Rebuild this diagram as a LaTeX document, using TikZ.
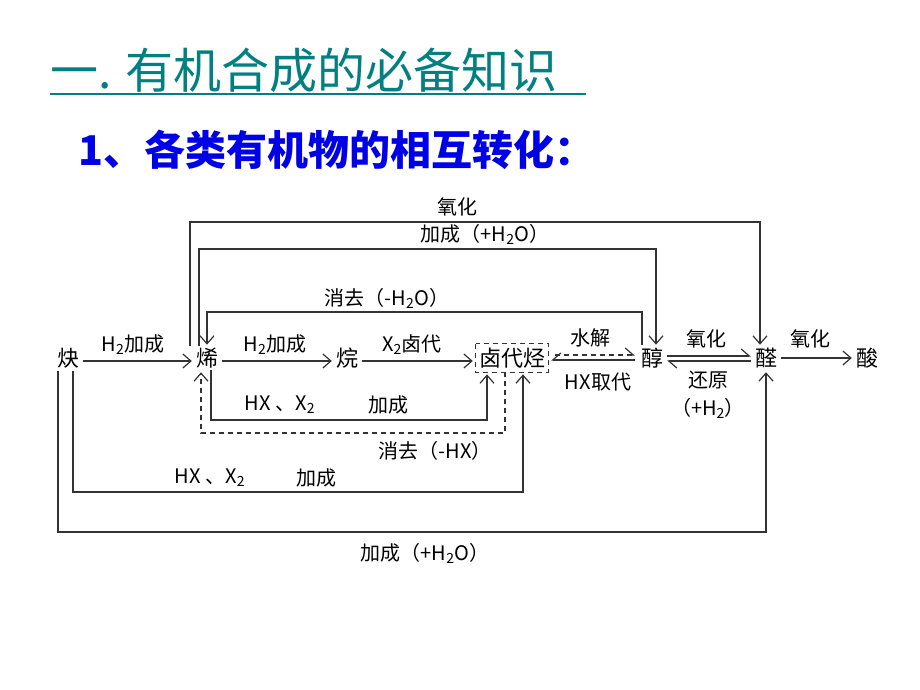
\documentclass[tikz,border=0pt]{standalone}
\usepackage{fontspec}
\newfontfamily\cjk{Noto Sans CJK SC}
\usetikzlibrary{arrows.meta,calc}
\definecolor{teal1}{RGB}{0,128,128}
\definecolor{blue1}{RGB}{0,0,230}
\begin{document}
\begin{tikzpicture}[x=1pt,y=-1pt,
  chem/.style={inner sep=0pt,font=\cjk\fontsize{22}{22}\selectfont},
  lab/.style={inner sep=0pt,font=\cjk\fontsize{20}{20}\selectfont},
  con/.style={draw=black!80,line width=1.2pt},
  arr/.style={con,-{Straight Barb[length=8pt,width=14pt]}},
  hup/.style={con,-{Straight Barb[left,length=8pt,width=14pt]}},
  dsh/.style={con,dash pattern=on 5pt off 4pt}]
\useasboundingbox (0,0) rectangle (920,690);
\fill[white] (0,0) rectangle (920,690);
\node[inner sep=0pt,anchor=west,text=teal1,font=\cjk\fontsize{48}{48}\selectfont] (t1) at (50,70) {一. 有机合成的必备知识};
\draw[teal1,line width=2pt] (50,94) -- (586,94);
\node[inner sep=0pt,anchor=west,text=blue1,font=\cjk\bfseries\fontsize{41}{41}\selectfont] (t2) at (78,150) {1、各类有机物的相互转化：};
% compounds
\node[chem] (yne) at (68,358) {炔};
\node[chem] (ene) at (207,358) {烯};
\node[chem] (ane) at (347,358) {烷};
\node[chem] (hal) at (512,358) {卤代烃};
\node[chem] (ol) at (652,358) {醇};
\node[chem] (al) at (766,358) {醛};
\node[chem] (acid) at (867,358) {酸};
\draw[dsh] ($(hal.north west)+(-3,-4)$) rectangle ($(hal.south east)+(3,4)$);
% main chain
\draw[arr] ($(yne.east)+(4,3)$) -- ($(ene.west)+(-4,3)$);
\node[lab] (l1) at (133,345) {H\textsubscript{2}加成};
\draw[arr] ($(ene.east)+(4,3)$) -- ($(ane.west)+(-4,3)$);
\node[lab] (l2) at (275,345) {H\textsubscript{2}加成};
\draw[arr] ($(ane.east)+(4,3)$) -- ($(hal.west)+(-6,3)$);
\node[lab] (l3) at (412,345) {X\textsubscript{2}卤代};
% hal <-> ol
\draw[con,{Straight Barb[right,length=8pt,width=14pt]}-] ($(hal.east)+(6,2)$) -- ($(ol.west)+(-6,2)$);
\draw[dsh,-{Straight Barb[left,length=8pt,width=14pt]}] ($(hal.east)+(10,-3)$) -- ($(ol.west)+(-6,-3)$);
\node[lab] (l4) at (590,338) {水解};
\node[lab] (l5) at (598,382) {HX取代};
% ol <-> al
\draw[hup] ($(ol.east)+(4,-2)$) -- ($(al.west)+(-4,-2)$);
\draw[hup] ($(al.west)+(-4,3)$) -- ($(ol.east)+(4,3)$);
\node[lab] (l6) at (706,339) {氧化};
\node[lab] (l7) at (708,380) {还原};
\node[lab] (l8) at (708,408) {（+H\textsubscript{2}）};
\draw[arr] ($(al.east)+(4,0)$) -- ($(acid.west)+(-4,0)$);
\node[lab] (l9) at (810,339) {氧化};
% top loops
\draw[arr] ($(ene.north)+(-17,-2)$) |- (760,222) -- ($(al.north)+(-6,-3)$);
\node[lab] (l10) at (457,207) {氧化};
\draw[arr] ($(ene.north)+(-8,-2)$) |- (656,249) -- ($(ol.north)+(4,-3)$);
\node[lab] (l11) at (485,234) {加成（+H\textsubscript{2}O）};
\draw[arr] ($(ol.north)+(-10,-3)$) |- (207,312) -- ($(ene.north)+(0,-3)$);
\node[lab] (l12) at (387,298) {消去（-H\textsubscript{2}O）};
% bottom loops
\draw[arr] ($(ene.south)+(4,2)$) |- (487,420) -- ($(hal.south)+(-25,6)$);
\node[lab] (l13) at (280,405) {HX 、X\textsubscript{2}};
\node[lab] (l14) at (388,405) {加成};
\draw[dsh,-{Straight Barb[length=8pt,width=14pt]}] ($(hal.south)+(-7,4)$) |- (201,433) -- ($(ene.south)+(-6,4)$);
\node[lab] (l15) at (435,451) {消去（-HX）};
\draw[arr] ($(yne.south)+(5,3)$) |- (523,492) -- ($(hal.south)+(11,6)$);
\node[lab] (l16) at (210,478) {HX 、X\textsubscript{2}};
\node[lab] (l17) at (316,478) {加成};
\draw[arr] ($(yne.south)+(-10,3)$) |- (766,532) -- ($(al.south)+(0,4)$);
\node[lab] (l18) at (425,553) {加成（+H\textsubscript{2}O）};
\end{tikzpicture}
\end{document}
